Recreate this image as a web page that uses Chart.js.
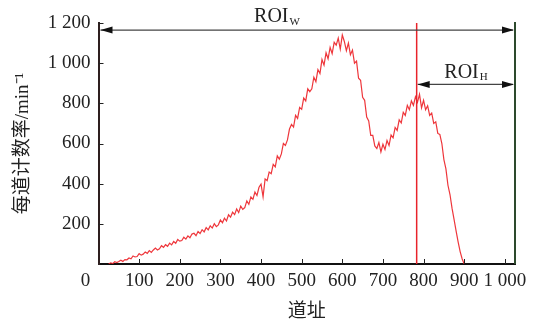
<!DOCTYPE html>
<html>
<head>
<meta charset="utf-8">
<script src="https://cdn.jsdelivr.net/npm/chart.js@4.4.1/dist/chart.umd.min.js"></script>
<style>
  body { margin: 0; background: #fff; }
</style>
</head>
<body>
<canvas id="spectrumChart" width="534" height="324"></canvas>
<script>
// channel of the first sample and step between samples
const channelStart = 25;
const channelStep = 5;

// counts per channel (min^-1), every 5 channels
const counts = [
  0, 6, 2, 11, 7, 12, 19, 13, 22, 21,
  30, 26, 40, 35, 37, 52, 44, 49, 60, 53,
  67, 58, 70, 79, 70, 76, 91, 83, 96, 88,
  104, 95, 112, 103, 122, 114, 117, 133, 124, 140,
  131, 149, 153, 141, 162, 152, 171, 160, 181, 170,
  190, 179, 201, 186, 195, 219, 205, 228, 214, 245,
  233, 258, 246, 274, 256, 288, 272, 281, 314, 297,
  334, 322, 358, 341, 382, 398, 335, 424, 415, 458,
  450, 496, 484, 538, 522, 548, 600, 590, 618, 672,
  695, 682, 740, 725, 780, 770, 826, 812, 872, 858,
  872, 930, 908, 968, 948, 1018, 990, 1052, 1022, 1078,
  1048, 1104, 1090, 1125, 1070, 1140, 1108, 1062, 1100, 1042,
  1065, 1000, 1010, 925, 915, 830, 815, 732, 712, 640,
  640, 588, 575, 605, 558, 596, 570, 615, 590, 642,
  628, 680, 665, 718, 702, 755, 740, 790, 768, 812,
  790, 832, 805, 845, 778, 815, 768, 788, 740, 752,
  700, 708, 650, 645, 600, 520, 474, 392, 346, 278,
  222, 165, 110, 62, 25, 0
];

const xTicks = [0, 100, 200, 300, 400, 500, 600, 700, 800, 900, 1000];
const yTicks = [0, 200, 400, 600, 800, 1000, 1200];

// ROI markers (data units)
const roiHStart = 783;
const roiWLevel = 1165;
const roiHLevel = 894;

const points = counts.map((v, i) => ({ x: channelStart + i * channelStep, y: v }));

const serif = "'Liberation Serif', 'Noto Sans CJK SC', serif";
const fmt = (v) => String(v).replace(/\B(?=(\d{3})+(?!\d))/g, ' ');

const arrowHead = (ctx, tipX, yy, dir) => {
  ctx.beginPath();
  ctx.moveTo(tipX, yy);
  ctx.lineTo(tipX - dir * 12, yy - 3.5);
  ctx.lineTo(tipX - dir * 12, yy + 3.5);
  ctx.closePath();
  ctx.fill();
};

const roiLabel = (ctx, cx, baseline, sub) => {
  ctx.font = '20px ' + serif;
  const w1 = ctx.measureText('ROI').width;
  ctx.font = '11px ' + serif;
  const w2 = ctx.measureText(sub).width;
  const left = cx - (w1 + w2 + 1) / 2;
  ctx.font = '20px ' + serif;
  ctx.fillText('ROI', left, baseline);
  ctx.font = '11px ' + serif;
  ctx.fillText(sub, left + w1 + 1, baseline + 2.5);
};

const overlay = {
  id: 'overlay',
  afterDraw(chart) {
    const { ctx, chartArea: a, scales: { x, y } } = chart;
    ctx.save();
    // inward tick marks
    ctx.strokeStyle = '#222';
    ctx.lineWidth = 1;
    xTicks.slice(1).forEach((t) => {
      const px = Math.round(x.getPixelForValue(t)) + 0.5;
      ctx.beginPath(); ctx.moveTo(px, a.bottom); ctx.lineTo(px, a.bottom - 5); ctx.stroke();
    });
    yTicks.slice(1).forEach((t) => {
      const py = Math.round(y.getPixelForValue(t)) + 0.5;
      ctx.beginPath(); ctx.moveTo(a.left, py); ctx.lineTo(a.left + 5, py); ctx.stroke();
    });

    // right frame line
    ctx.strokeStyle = '#2d4a2d';
    ctx.lineWidth = 2;
    ctx.beginPath(); ctx.moveTo(a.right, a.top - 1); ctx.lineTo(a.right, a.bottom); ctx.stroke();

    // ROI_H start line
    const xr = x.getPixelForValue(roiHStart);
    ctx.strokeStyle = '#e8232b';
    ctx.lineWidth = 1.5;
    ctx.beginPath(); ctx.moveTo(xr, a.top); ctx.lineTo(xr, a.bottom); ctx.stroke();

    // arrows
    ctx.strokeStyle = '#444';
    ctx.fillStyle = '#111';
    ctx.lineWidth = 1.2;
    const yw = y.getPixelForValue(roiWLevel);
    const x0 = x.getPixelForValue(0);
    ctx.beginPath(); ctx.moveTo(x0 + 2, yw); ctx.lineTo(a.right - 2, yw); ctx.stroke();
    arrowHead(ctx, x0 + 2, yw, -1);
    arrowHead(ctx, a.right - 1, yw, 1);
    const yh = y.getPixelForValue(roiHLevel);
    ctx.beginPath(); ctx.moveTo(xr + 1, yh); ctx.lineTo(a.right - 2, yh); ctx.stroke();
    arrowHead(ctx, xr + 1, yh, -1);
    arrowHead(ctx, a.right - 1, yh, 1);

    // labels
    ctx.fillStyle = '#222';
    ctx.textBaseline = 'alphabetic';
    ctx.textAlign = 'left';
    roiLabel(ctx, 277, 22, 'W');
    roiLabel(ctx, 466, 77.5, 'H');

    // the "0" of the channel axis sits left of the axis
    ctx.font = '19px ' + serif;
    ctx.textAlign = 'center';
    ctx.textBaseline = 'middle';
    ctx.fillText('0', 85.5, 281);
    ctx.restore();
  }
};

new Chart(document.getElementById('spectrumChart'), {
  type: 'line',
  data: {
    datasets: [{
      data: points,
      borderColor: 'rgba(236, 32, 38, 0.9)',
      borderWidth: 1.2,
      pointRadius: 0,
      tension: 0,
      fill: false
    }]
  },
  options: {
    responsive: false,
    animation: false,
    layout: { padding: { left: 0, right: 19, top: 23, bottom: 0 } },
    plugins: { legend: { display: false }, tooltip: { enabled: false } },
    scales: {
      x: {
        type: 'linear',
        min: 0,
        max: 1025,
        afterBuildTicks: (s) => { s.ticks = xTicks.map((v) => ({ value: v })); },
        afterFit: (s) => { s.height = 60; },
        grid: { display: false, drawTicks: false },
        border: { display: true, color: '#111', width: 2 },
        ticks: {
          padding: 6,
          maxRotation: 0,
          autoSkip: false,
          color: '#222',
          font: { family: serif, size: 19 },
          callback: (v) => (v === 0 ? '' : fmt(v))
        },
        title: {
          display: true,
          text: '道址',
          color: '#222',
          font: { family: serif, size: 19 },
          padding: { top: 4, bottom: 1 }
        }
      },
      y: {
        min: 0,
        max: 1200,
        afterBuildTicks: (s) => { s.ticks = yTicks.map((v) => ({ value: v })); },
        afterFit: (s) => { s.width = 98.5; },
        grid: { display: false, drawTicks: false },
        border: { display: true, color: '#2e1f1f', width: 2 },
        ticks: {
          padding: 8,
          color: '#222',
          font: { family: serif, size: 19 },
          callback: (v) => (v === 0 ? '' : fmt(v))
        },
        title: {
          display: true,
          text: '每道计数率/min⁻¹',
          color: '#222',
          font: { family: serif, size: 19 },
          padding: { top: 12, bottom: 4 }
        }
      }
    }
  },
  plugins: [overlay]
});
</script>
</body>
</html>
